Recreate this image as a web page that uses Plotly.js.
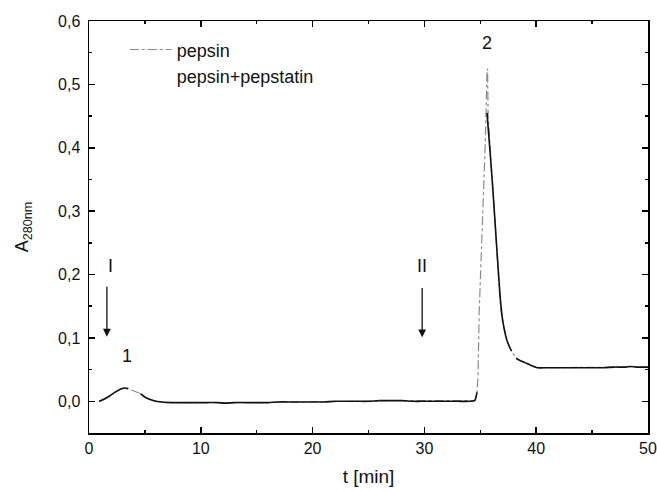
<!DOCTYPE html>
<html>
<head>
<meta charset="utf-8">
<script src="https://cdn.plot.ly/plotly-3.0.1.min.js"></script>
<style>html,body{margin:0;padding:0;background:#fff;}#chart{width:657px;height:492px;}</style>
</head>
<body>
<div id="chart"></div>
<script>
// pepsin (dash-dot grey)
var tPepsin = [0.9, 1.3, 1.8, 2.3, 2.8, 3.2, 3.5, 3.9, 4.3, 4.65, 4.9, 5.3, 5.8, 6.5, 7.5, 8.5, 9.5, 10.5, 11.5, 12.2, 13, 14, 15, 16, 17, 18, 19, 20, 21, 22, 23, 24, 25, 26, 27, 28, 29, 30, 31, 32, 33, 34, 34.5, 34.7, 34.8, 34.9, 35.0, 35.1, 35.3, 35.45, 35.6, 35.65, 35.7, 36.1, 36.5, 36.8, 37.0, 37.4, 37.8, 38.0, 38.2, 38.6, 39.0, 39.5, 40.1, 41, 42, 43, 44, 45, 46, 47, 48, 48.4, 49, 50];
var yPepsin = [0, 0.003, 0.008, 0.014, 0.019, 0.021, 0.02, 0.017, 0.014, 0.012, 0.008, 0.004, 0.001, -0.001, -0.002, -0.002, -0.002, -0.002, -0.002, -0.003, -0.002, -0.002, -0.002, -0.002, -0.001, -0.001, -0.001, -0.001, -0.001, 0, 0, 0, 0, 0.001, 0.001, 0.001, 0, 0, 0, 0, 0, 0, 0.001, 0.014, 0.042, 0.14, 0.19, 0.23, 0.33, 0.41, 0.52, 0.525, 0.45, 0.34, 0.235, 0.15, 0.125, 0.095, 0.079, 0.073, 0.068, 0.064, 0.061, 0.057, 0.053, 0.053, 0.053, 0.053, 0.053, 0.053, 0.053, 0.054, 0.054, 0.055, 0.054, 0.054];
// pepsin+pepstatin (solid black)
var tPepstatin = [0.9, 1.3, 1.8, 2.3, 2.8, 3.2, 3.5, 4.0, 4.6, 4.9, 5.3, 5.8, 6.5, 7.5, 8.5, 9.5, 10.5, 11.5, 12.2, 13, 14, 15, 16, 17, 18, 19, 20, 21, 22, 23, 24, 25, 26, 27, 28, 29, 30, 31, 32, 33, 34, 34.5, 34.7, 35.2, 35.6, 35.8, 36.1, 36.5, 36.8, 37.0, 37.4, 37.8, 38.0, 38.2, 38.6, 39.0, 39.5, 40.1, 41, 42, 43, 44, 45, 46, 47, 48, 48.4, 49, 50];
var yPepstatin = [0, 0.003, 0.008, 0.014, 0.019, 0.021, 0.02, null, 0.012, 0.008, 0.004, 0.001, -0.001, -0.002, -0.002, -0.002, -0.002, -0.002, -0.003, -0.002, -0.002, -0.002, -0.002, -0.001, -0.001, -0.001, -0.001, -0.001, 0, 0, 0, 0, 0.001, 0.001, 0.001, 0, 0, 0, 0, 0, 0, 0.001, 0.014, null, 0.455, 0.41, 0.34, 0.235, 0.16, 0.128, 0.095, 0.079, null, 0.068, 0.064, 0.061, 0.057, 0.053, 0.053, 0.053, 0.053, 0.053, 0.053, 0.053, 0.054, 0.054, 0.055, 0.054, 0.054];
var seriesNames = ['pepsin', 'pepsin+pepstatin'];
var yTickVals = [0, 0.1, 0.2, 0.3, 0.4, 0.5, 0.6];
var yTickText = ['0,0', '0,1', '0,2', '0,3', '0,4', '0,5', '0,6'];
var xTickVals = [0, 10, 20, 30, 40, 50];

var FONT = 'Liberation Sans, Arial, sans-serif';

var traces = [
  {x: tPepsin, y: yPepsin, name: seriesNames[0], mode: 'lines',
   line: {color: '#8a8a8a', width: 1.2, dash: 'dashdot'}},
  {x: tPepstatin, y: yPepstatin, name: seriesNames[1], mode: 'lines', showlegend: false,
   connectgaps: false, line: {color: '#111', width: 1.6, shape: 'spline', smoothing: 0.6}},
  {x: [null], y: [null], name: seriesNames[1], mode: 'lines',
   line: {color: 'rgba(0,0,0,0)', width: 1}}
];

var axisCommon = {
  showline: true, linecolor: '#000', linewidth: 1.5, mirror: 'ticks',
  ticks: 'inside', ticklen: 6, tickwidth: 1.5, tickcolor: '#000',
  showgrid: false, zeroline: false,
  tickfont: {family: FONT, size: 16, color: '#111'}
};

var layout = {
  width: 657, height: 492,
  margin: {l: 89, r: 9, t: 21, b: 59},
  paper_bgcolor: '#fff', plot_bgcolor: '#fff',
  font: {family: FONT, color: '#111'},
  xaxis: Object.assign({}, axisCommon, {
    range: [0, 50], tickvals: xTickVals,
    minor: {dtick: 5, ticks: 'inside', ticklen: 3, tickwidth: 1.5, tickcolor: '#000'},
    title: {text: 't [min]', font: {family: FONT, size: 19, color: '#111'}, standoff: 14}
  }),
  yaxis: Object.assign({}, axisCommon, {
    range: [-0.05, 0.6], tickvals: yTickVals, ticktext: yTickText,
    minor: {dtick: 0.05, ticks: 'inside', ticklen: 3, tickwidth: 1.5, tickcolor: '#000'},
    ticklabelstandoff: 4,
    title: {text: 'A<sub>280nm</sub>', font: {family: FONT, size: 18, color: '#111'}, standoff: 24}
  }),
  legend: {x: 0.064, y: 0.975, xanchor: 'left', yanchor: 'top', bgcolor: 'rgba(0,0,0,0)',
    itemwidth: 42,
    font: {family: FONT, size: 18, color: '#111'}, tracegroupgap: 0},
  annotations: [
    {x: 1.6, y: 0.102, ax: 1.6, ay: 0.183, axref: 'x', ayref: 'y', xref: 'x', yref: 'y',
     text: '', showarrow: true, arrowhead: 2, arrowsize: 1.2, arrowwidth: 1.3, arrowcolor: '#111'},
    {x: 29.8, y: 0.101, ax: 29.8, ay: 0.181, axref: 'x', ayref: 'y', xref: 'x', yref: 'y',
     text: '', showarrow: true, arrowhead: 2, arrowsize: 1.2, arrowwidth: 1.3, arrowcolor: '#111'},
    {x: 1.9, y: 0.213, xref: 'x', yref: 'y', text: 'I', showarrow: false,
     font: {family: FONT, size: 18, color: '#111'}},
    {x: 29.8, y: 0.213, xref: 'x', yref: 'y', text: 'II', showarrow: false,
     font: {family: FONT, size: 18, color: '#111'}},
    {x: 3.4, y: 0.071, xref: 'x', yref: 'y', text: '1', showarrow: false,
     font: {family: FONT, size: 18, color: '#111'}},
    {x: 35.6, y: 0.565, xref: 'x', yref: 'y', text: '2', showarrow: false,
     font: {family: FONT, size: 18, color: '#111'}}
  ]
};

Plotly.newPlot('chart', traces, layout, {displayModeBar: false, staticPlot: true});
</script>
</body>
</html>
